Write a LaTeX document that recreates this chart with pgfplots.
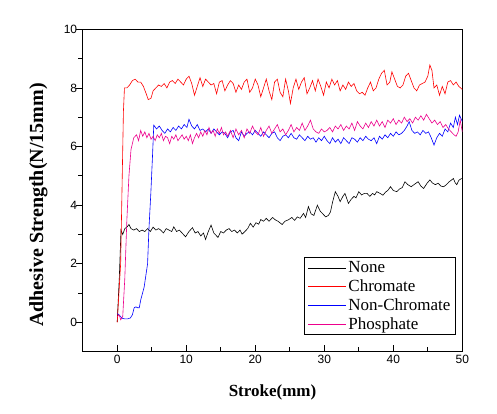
\documentclass[border=0pt]{standalone}
\usepackage{fontspec}
\setmainfont{Liberation Serif}
\newfontfamily\arialf{Liberation Sans}
\usepackage{pgfplots}
\pgfplotsset{compat=1.18}
\begin{document}
\begin{tikzpicture}
\useasboundingbox (0pt,0pt) rectangle (497pt,413pt);
\begin{axis}[
  at={(82.7pt,61.3pt)}, anchor=south west,
  scale only axis, width=379.6pt, height=322.4pt,
  xmin=-5, xmax=50, ymin=-1, ymax=10,
  xtick={0,10,20,30,40,50}, ytick={0,2,4,6,8,10},
  minor x tick num=1, minor y tick num=1,
  tick pos=left,
  xtick align=inside, ytick align=outside,
  major tick length=7pt, minor tick length=4.5pt,
  axis line style={line width=1pt},
  tick style={line width=0.8pt, black},
  /pgf/number format/assume math mode=true,
  tick label style={font=\arialf\fontsize{12}{14}\selectfont},
  yticklabel style={xshift=5pt},
  xlabel={Stroke(mm)},
  ylabel={Adhesive Strength(N/15mm)},
  xlabel style={font=\bfseries\fontsize{17}{20}\selectfont, at={(axis description cs:0.5,-0.126)}, anchor=center},
  ylabel style={font=\bfseries\fontsize{20}{23}\selectfont, at={(axis description cs:-0.117,0.455)}, anchor=center},
  legend style={at={(axis description cs:0.983,0.051)}, anchor=south east,
    draw=black, line width=0.8pt, font=\fontsize{17}{19}\selectfont,
    row sep=3.5pt, inner xsep=3pt, inner ysep=3pt,
    nodes={inner xsep=2pt, inner ysep=1pt}},
  legend cell align=left,
  legend image code/.code={\draw[#1, line width=0.6pt] (0pt,0pt) -- (38pt,0pt);},
  every axis plot/.append style={line width=0.6pt},
]
\addplot[black] coordinates {
(0,0.02) (0.3,1.5) (0.55,3.15) (0.8,3.0) (1.1,3.2) (1.4,3.25) (1.7,3.34) (2.0,3.2) (2.4,3.15) (2.8,3.2) (3.2,3.1) (3.6,3.15) (4.0,3.1) (4.4,3.2) (4.8,3.1) (5.2,3.25) (5.6,3.15) (6.0,3.2) (6.3,3.15) (6.7,3.05) (7.1,3.2) (7.5,3.15) (7.9,3.1) (8.2,3.26) (8.6,3.1) (9.0,3.15) (9.4,3.05) (9.9,2.92) (10.4,3.1) (10.9,3.23) (11.3,3.05) (11.7,3.1) (12.1,2.95) (12.5,3.05) (12.8,2.83) (13.2,3.1) (13.6,3.32) (14.0,3.05) (14.6,2.9) (15.0,3.1) (15.4,3.05) (15.8,3.15) (16.2,3.2) (16.6,3.1) (17.0,3.15) (17.4,3.05) (17.8,3.15) (18.1,3.01) (18.5,3.1) (18.9,3.2) (19.3,3.38) (19.7,3.25) (20.1,3.4) (20.5,3.35) (20.8,3.51) (21.2,3.45) (21.6,3.55) (22.0,3.45) (22.5,3.58) (22.9,3.5) (23.3,3.45) (23.9,3.34) (24.3,3.45) (24.8,3.5) (25.3,3.58) (25.7,3.48) (26.1,3.6) (26.5,3.55) (27.0,3.72) (27.3,3.58) (27.7,3.95) (28.1,3.7) (28.5,3.65) (29.0,4.0) (29.4,3.8) (29.8,3.7) (30.2,3.6) (30.6,3.65) (30.9,3.77) (31.2,4.1) (31.6,4.46) (32.0,4.3) (32.3,4.12) (32.7,4.3) (33.0,4.4) (33.5,4.06) (33.9,4.2) (34.3,4.3) (34.6,4.25) (35.0,4.46) (35.4,4.35) (35.8,4.4) (36.2,4.4) (36.6,4.3) (37.0,4.4) (37.3,4.35) (37.6,4.46) (38.1,4.4) (38.5,4.34) (38.9,4.45) (39.2,4.5) (39.6,4.63) (40.0,4.5) (40.5,4.46) (40.9,4.55) (41.3,4.6) (41.7,4.8) (42.1,4.7) (42.6,4.63) (43.0,4.7) (43.3,4.75) (43.6,4.8) (44.0,4.65) (44.4,4.57) (44.9,4.75) (45.3,4.86) (45.7,4.75) (46.1,4.7) (46.5,4.75) (46.9,4.65) (47.3,4.63) (47.7,4.7) (48.1,4.8) (48.4,4.85) (48.7,4.91) (49.0,4.75) (49.2,4.7) (49.5,4.85) (49.9,4.91)
};
\addlegendentry{None}
\addplot[red] coordinates {
(0,0) (0.5,2) (0.9,7.2) (1.05,8.0) (1.4,8.0) (1.8,8.1) (2.2,8.25) (2.6,8.3) (3.0,8.2) (3.4,8.2) (3.8,8.05) (4.2,7.8) (4.5,7.6) (4.9,7.65) (5.2,7.9) (5.6,8.0) (6.0,8.1) (6.4,8.05) (6.8,8.15) (7.2,8.0) (7.6,8.2) (8.0,8.25) (8.4,8.15) (8.8,8.3) (9.2,8.2) (9.6,8.1) (10,8.3) (10.4,8.4) (10.8,8.15) (11.2,7.75) (11.6,8.05) (12,8.35) (12.4,8.05) (12.8,8.3) (13.2,8.2) (13.6,8.1) (14,8.15) (14.4,7.8) (14.8,8.2) (15.2,8.25) (15.6,7.9) (16,8.1) (16.4,8.25) (16.8,8.15) (17.2,7.85) (17.6,8.1) (18,7.95) (18.4,8.2) (18.8,8.3) (19.2,7.85) (19.6,8.0) (20,8.3) (20.4,8.1) (20.8,7.7) (21.2,8.0) (21.6,8.3) (22,7.9) (22.4,7.6) (22.8,8.2) (23.2,8.3) (23.6,7.85) (24,7.7) (24.4,8.3) (24.8,7.9) (25.1,7.47) (25.5,8.0) (25.9,8.3) (26.3,7.95) (26.7,8.2) (27.1,8.35) (27.5,7.8) (27.9,8.0) (28.3,8.25) (28.7,7.9) (29.1,8.3) (29.5,8.05) (29.9,7.75) (30.3,8.2) (30.7,8.0) (31.1,8.3) (31.5,8.1) (31.9,8.25) (32.3,7.9) (32.7,8.1) (33.1,7.95) (33.5,8.2) (33.9,8.05) (34.3,8.15) (34.7,7.9) (35.1,7.8) (35.5,7.85) (35.9,7.75) (36.3,8.0) (36.7,8.2) (37.1,7.9) (37.5,8.0) (37.9,8.3) (38.3,8.5) (38.7,8.6) (39.1,8.1) (39.5,8.2) (39.8,8.55) (40.2,8.3) (40.6,8.05) (41.0,8.0) (41.4,8.1) (41.8,8.4) (42.2,8.5) (42.6,8.25) (43.0,8.0) (43.4,7.9) (43.8,8.1) (44.2,8.15) (44.6,8.2) (45.0,8.4) (45.3,8.78) (45.6,8.6) (45.9,8.0) (46.3,8.1) (46.7,7.75) (47.1,8.05) (47.5,7.8) (47.9,8.2) (48.3,8.25) (48.7,8.1) (49.1,8.2) (49.5,8.05) (50,7.95)
};
\addlegendentry{Chromate}
\addplot[blue] coordinates {
(0,0.3) (0.3,0.25) (0.7,0.14) (1.1,0.12) (1.5,0.12) (1.9,0.15) (2.2,0.26) (2.46,0.5) (2.7,0.53) (2.95,0.5) (3.2,0.5) (3.4,0.76) (3.9,1.2) (4.4,2.0) (4.6,3.2) (4.87,4.4) (5.1,5.6) (5.3,6.73) (5.7,6.6) (6.1,6.7) (6.5,6.55) (6.9,6.45) (7.3,6.6) (7.7,6.5) (8.1,6.65) (8.5,6.55) (8.9,6.7) (9.3,6.6) (9.7,6.75) (10.1,6.65) (10.4,6.93) (10.8,6.7) (11.2,6.6) (11.6,6.75) (12.0,6.55) (12.4,6.6) (12.8,6.5) (13.2,6.6) (13.6,6.45) (14.0,6.6) (14.4,6.5) (14.8,6.4) (15.2,6.5) (15.6,6.45) (16,6.3) (16.4,6.5) (16.8,6.55) (17.2,6.3) (17.6,6.2) (18,6.5) (18.4,6.35) (18.8,6.45) (19.2,6.5) (19.6,6.4) (20,6.55) (20.4,6.45) (20.8,6.35) (21.2,6.5) (21.6,6.4) (22,6.3) (22.4,6.45) (22.8,6.5) (23.2,6.3) (23.6,6.2) (24,6.35) (24.4,6.4) (24.8,6.3) (25.2,6.45) (25.6,6.3) (26,6.25) (26.4,6.4) (26.8,6.3) (27.2,6.2) (27.6,6.35) (28,6.25) (28.4,6.3) (28.8,6.15) (29.2,6.3) (29.6,6.2) (30,6.35) (30.4,6.2) (30.8,6.1) (31.2,6.3) (31.6,6.15) (32,6.25) (32.4,6.1) (32.8,6.3) (33.2,6.2) (33.6,6.1) (34,6.3) (34.4,6.25) (34.8,6.15) (35.2,6.3) (35.6,6.2) (36,6.35) (36.4,6.25) (36.8,6.2) (37.2,6.3) (37.6,6.1) (38,6.35) (38.4,6.25) (38.8,6.4) (39.2,6.3) (39.6,6.45) (40,6.35) (40.4,6.5) (40.8,6.4) (41.2,6.45) (41.6,6.55) (42.0,6.7) (42.3,6.85) (42.7,6.55) (43.1,6.45) (43.5,6.5) (43.9,6.4) (44.3,6.55) (44.7,6.45) (45.1,6.5) (45.5,6.3) (45.9,6.05) (46.3,6.3) (46.7,6.45) (47.1,6.35) (47.5,6.6) (47.9,6.5) (48.3,6.8) (48.7,6.65) (49.0,7.0) (49.3,6.75) (49.6,7.07) (50,6.85)
};
\addlegendentry{Non-Chromate}
\addplot[magenta] coordinates {
(0,0.2) (0.3,0.25) (0.5,0.09) (0.8,0.2) (1.1,1.5) (1.4,3.5) (1.7,5.0) (2.0,5.9) (2.4,6.3) (2.8,6.4) (3.1,6.2) (3.4,6.55) (3.7,6.35) (4.0,6.5) (4.3,6.3) (4.6,6.45) (4.9,6.25) (5.2,6.35) (5.5,6.2) (5.8,6.4) (6.1,6.3) (6.4,6.45) (6.7,6.2) (7.0,6.35) (7.3,6.3) (7.6,6.1) (7.9,6.35) (8.2,6.25) (8.5,6.4) (8.8,6.2) (9.1,6.3) (9.4,6.4) (9.7,6.25) (10,6.35) (10.3,6.2) (10.6,6.4) (10.9,6.1) (11.2,6.3) (11.5,6.45) (11.8,6.3) (12.1,6.5) (12.4,6.35) (12.7,6.55) (13,6.4) (13.3,6.65) (13.6,6.45) (13.9,6.55) (14.2,6.35) (14.5,6.6) (14.8,6.45) (15.1,6.65) (15.4,6.4) (15.7,6.5) (16,6.35) (16.4,6.55) (16.8,6.3) (17.2,6.6) (17.6,6.4) (18,6.55) (18.4,6.3) (18.8,6.6) (19.2,6.45) (19.6,6.7) (20,6.5) (20.4,6.4) (20.8,6.65) (21.2,6.35) (21.6,6.55) (22,6.7) (22.4,6.45) (22.8,6.6) (23.2,6.75) (23.6,6.5) (24,6.6) (24.4,6.4) (24.8,6.55) (25.2,6.75) (25.6,6.5) (26,6.65) (26.4,6.55) (26.8,6.8) (27.2,6.55) (27.6,6.7) (28,6.9) (28.4,6.6) (28.8,6.5) (29.2,6.45) (29.6,6.6) (30,6.5) (30.4,6.55) (30.8,6.65) (31.2,6.5) (31.6,6.7) (32,6.6) (32.4,6.75) (32.8,6.55) (33.2,6.7) (33.6,6.6) (34,6.8) (34.4,6.55) (34.8,6.85) (35.2,6.7) (35.6,6.6) (36,6.8) (36.4,6.65) (36.8,6.85) (37.2,6.7) (37.6,6.9) (38,6.7) (38.4,6.85) (38.8,6.65) (39.2,6.9) (39.6,6.8) (40,6.95) (40.4,6.75) (40.8,6.9) (41.2,6.8) (41.6,7.0) (42,6.85) (42.4,6.95) (42.8,6.8) (43.2,7.0) (43.6,6.9) (44,7.05) (44.4,6.9) (44.8,7.1) (45.2,6.95) (45.6,6.8) (46,6.9) (46.4,6.75) (46.8,6.85) (47.2,6.65) (47.6,6.75) (48,6.6) (48.4,6.5) (48.8,6.4) (49.1,6.35) (49.4,6.5) (49.7,6.9) (50,6.5)
};
\addlegendentry{Phosphate}
\end{axis}
\end{tikzpicture}
\end{document}
